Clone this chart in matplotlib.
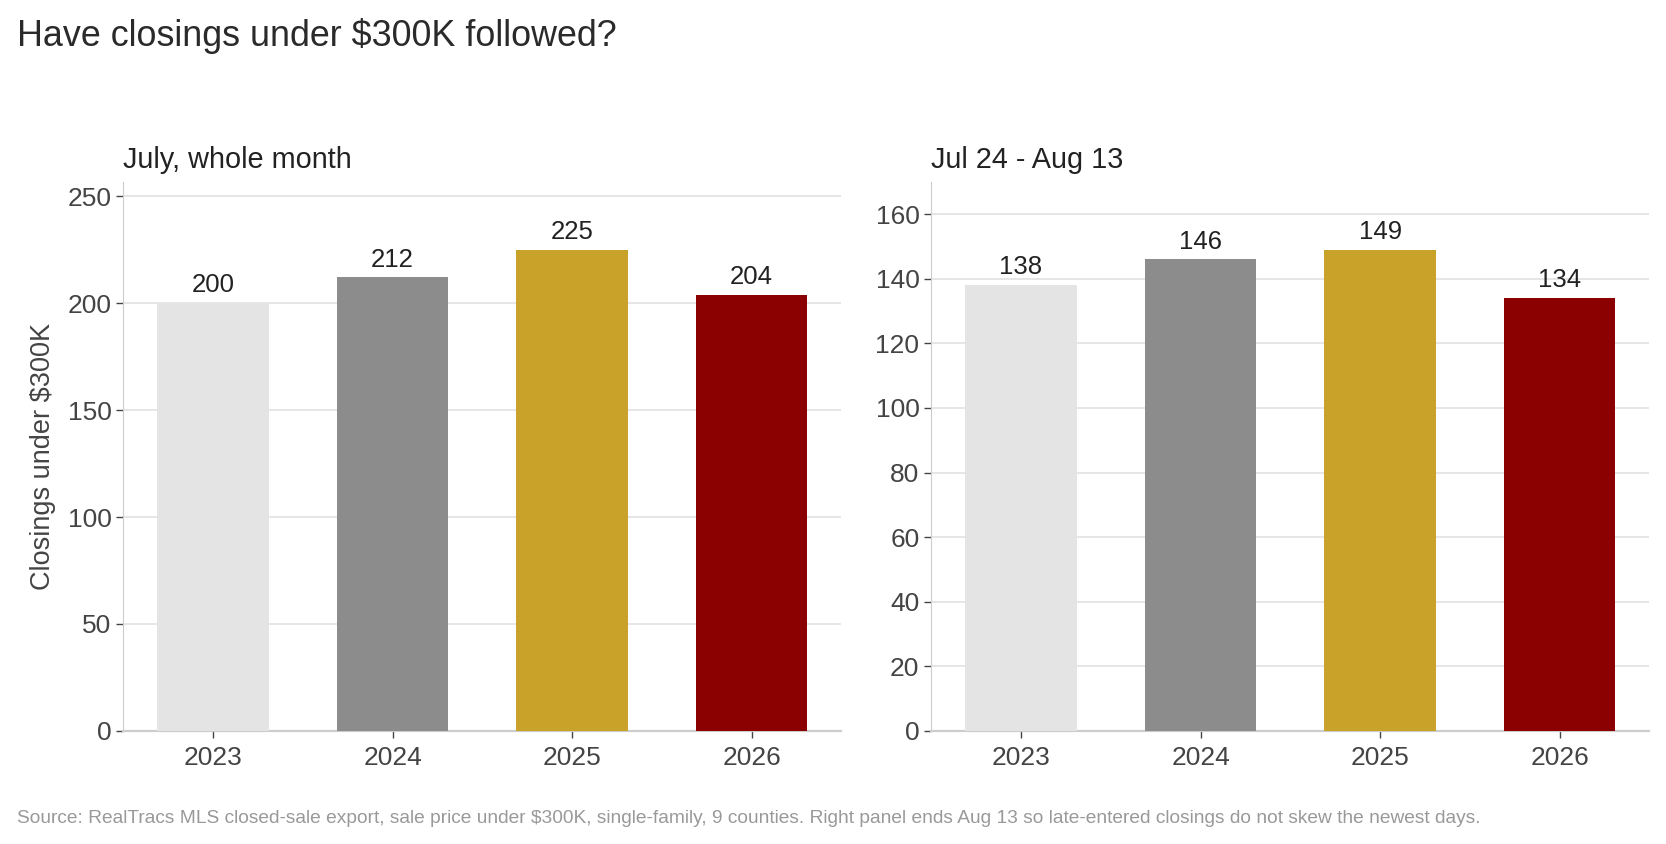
import matplotlib
matplotlib.use("Agg")
from matplotlib import pyplot as plt

plt.rcParams['font.family'] = ['Liberation Sans', 'DejaVu Sans']

years = ["2023", "2024", "2025", "2026"]
july_whole = [200, 212, 225, 204]
jul24_aug13 = [138, 146, 149, 134]
bar_colors = ["#e4e4e4", "#8c8c8c", "#c9a22a", "#8b0000"]

panels = [
	("July, whole month", july_whole, [0, 50, 100, 150, 200, 250]),
	("Jul 24 - Aug 13", jul24_aug13, [0, 20, 40, 60, 80, 100, 120, 140, 160]),
]

fig = plt.figure(figsize=(16.66, 8.44), dpi=100)
axes = [fig.add_axes([0.074, 0.134, 0.431, 0.65]), fig.add_axes([0.559, 0.134, 0.431, 0.65])]

for ax, (subtitle, values, ticks) in zip(axes, panels):
	x = range(len(years))
	ax.bar(x, values, width=0.62, color=bar_colors, zorder=3)
	for xi, v in zip(x, values):
		ax.text(xi, v + max(values) * 0.012, str(v), ha='center', va='bottom',
				fontsize=18.5, color='#222222', zorder=4)
	ax.set_xlim(-0.5, 3.5)
	ax.set_ylim(0, max(values) * 1.14)
	ax.set_yticks(ticks)
	ax.set_xticks(list(x))
	ax.set_xticklabels(years)
	ax.grid(axis='y', color='#e2e2e2', linewidth=1.2, zorder=0)
	ax.set_axisbelow(True)
	for s in ['top', 'right']:
		ax.spines[s].set_visible(False)
	ax.spines['left'].set_color('#cccccc')
	ax.spines['bottom'].set_color('#cccccc')
	ax.spines['bottom'].set_linewidth(1.6)
	ax.tick_params(axis='both', labelsize=19, colors='#444444', length=5, width=1)
	ax.tick_params(axis='x', pad=6)
	ax.set_title(subtitle, loc='left', fontsize=20.8, color='#222222', pad=10)

axes[0].set_ylabel("Closings under $300K", fontsize=19.5, color='#444444', labelpad=8)

fig.text(0.010, 0.957, "Have closings under $300K followed?", fontsize=25.8, color='#2a2a2a', va='center')
fig.text(0.010, 0.030, "Source: RealTracs MLS closed-sale export, sale price under $300K, single-family, 9 counties. "
		 "Right panel ends Aug 13 so late-entered closings do not skew the newest days.",
		 fontsize=13.8, color='#999999', va='center')

fig.savefig("out.png", dpi=100)
